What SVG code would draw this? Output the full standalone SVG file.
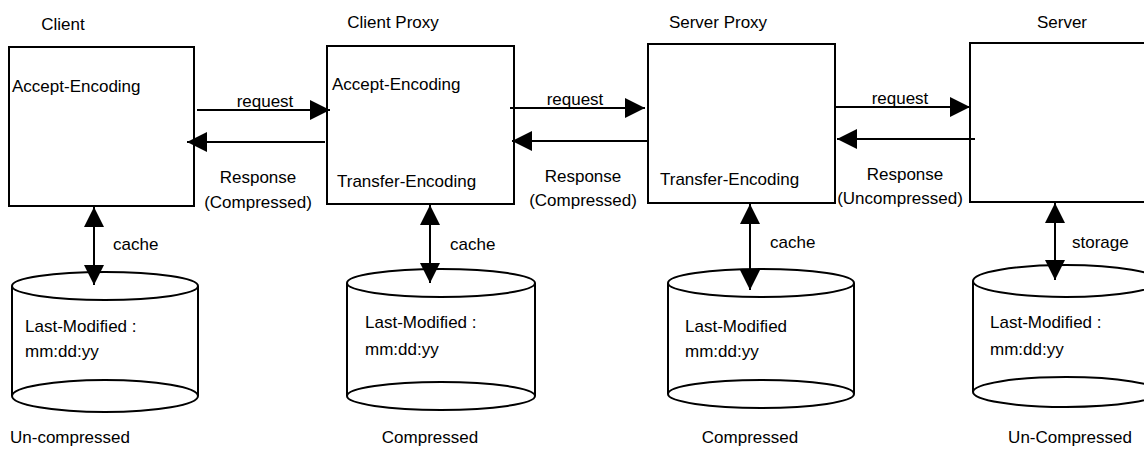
<svg xmlns="http://www.w3.org/2000/svg" width="1144" height="449" viewBox="0 0 1144 449">
<style>
text{font-family:"Liberation Sans",Arial,sans-serif;font-size:17px;fill:#000}
.m{text-anchor:middle}
.box{fill:#fff;stroke:#000;stroke-width:2}
.cyl{fill:#fff;stroke:#000;stroke-width:2}
.ln{stroke:#000;stroke-width:2;fill:none}
</style>
<defs>
<marker id="ah" viewBox="0 0 20 20" refX="20" refY="10" markerWidth="20" markerHeight="20" markerUnits="userSpaceOnUse" orient="auto-start-reverse">
<path d="M0,0 L20,10 L0,20 Z" fill="#000"/>
</marker>
</defs>
<rect width="1144" height="449" fill="#fff"/>
<g id="client">
<text x="63" y="30" class="m">Client</text>
<rect class="box" x="9" y="47" width="185" height="159"/>
<text x="12" y="92">Accept-Encoding</text>
</g>
<g id="client-proxy">
<text x="393" y="28" class="m">Client Proxy</text>
<rect class="box" x="327" y="46" width="187" height="158"/>
<text x="332" y="90">Accept-Encoding</text>
<text x="337" y="187">Transfer-Encoding</text>
</g>
<g id="server-proxy">
<text x="718" y="28" class="m">Server Proxy</text>
<rect class="box" x="648" y="44" width="187" height="159"/>
<text x="660" y="185">Transfer-Encoding</text>
</g>
<g id="server">
<text x="1062" y="28" class="m">Server</text>
<rect class="box" x="970" y="43" width="190" height="159"/>
</g>
<g id="client-cache">
<path class="cyl" d="M12,286 L12,396 A93,16 0 0 0 198,396 L198,286"/>
<ellipse class="cyl" cx="105" cy="286" rx="93" ry="14"/>
<path class="ln" d="M12,396 A93,16 0 0 1 198,396"/>
<text x="25" y="332">Last-Modified :</text>
<text x="25" y="357">mm:dd:yy</text>
<text x="70" y="443" class="m">Un-compressed</text>
</g>
<g id="client-proxy-cache">
<path class="cyl" d="M347,283 L347,396 A94,14 0 0 0 535,396 L535,283"/>
<ellipse class="cyl" cx="441" cy="283" rx="94" ry="14"/>
<path class="ln" d="M347,396 A94,14 0 0 1 535,396"/>
<text x="365" y="328">Last-Modified :</text>
<text x="365" y="355">mm:dd:yy</text>
<text x="430" y="443" class="m">Compressed</text>
</g>
<g id="server-proxy-cache">
<path class="cyl" d="M668,283 L668,394 A93,14 0 0 0 854,394 L854,283"/>
<ellipse class="cyl" cx="761" cy="283" rx="93" ry="14"/>
<path class="ln" d="M668,394 A93,14 0 0 1 854,394"/>
<text x="685" y="332">Last-Modified</text>
<text x="685" y="357">mm:dd:yy</text>
<text x="750" y="443" class="m">Compressed</text>
</g>
<g id="server-storage">
<path class="cyl" d="M973,281 L973,392 A93,15 0 0 0 1159,392 L1159,281"/>
<ellipse class="cyl" cx="1066" cy="281" rx="93" ry="16"/>
<path class="ln" d="M973,392 A93,15 0 0 1 1159,392"/>
<text x="990" y="328">Last-Modified :</text>
<text x="990" y="355">mm:dd:yy</text>
<text x="1070" y="443" class="m">Un-Compressed</text>
</g>
<g id="connectors">
<line class="ln" x1="197" y1="110" x2="330" y2="110" marker-end="url(#ah)"/>
<text x="265" y="107" class="m">request</text>
<line class="ln" x1="325" y1="142" x2="187" y2="142" marker-end="url(#ah)"/>
<text x="258" y="183" class="m">Response</text>
<text x="258" y="208" class="m">(Compressed)</text>
<line class="ln" x1="510" y1="108" x2="645" y2="108" marker-end="url(#ah)"/>
<text x="575" y="105" class="m">request</text>
<line class="ln" x1="648" y1="141" x2="512" y2="141" marker-end="url(#ah)"/>
<text x="583" y="182" class="m">Response</text>
<text x="583" y="206" class="m">(Compressed)</text>
<line class="ln" x1="836" y1="107" x2="970" y2="107" marker-end="url(#ah)"/>
<text x="900" y="104" class="m">request</text>
<line class="ln" x1="975" y1="139" x2="837" y2="139" marker-end="url(#ah)"/>
<text x="905" y="180" class="m">Response</text>
<text x="900" y="204" class="m">(Uncompressed)</text>
<line class="ln" x1="94" y1="207" x2="94" y2="285" marker-start="url(#ah)" marker-end="url(#ah)"/>
<text x="113" y="250">cache</text>
<line class="ln" x1="430" y1="205" x2="430" y2="283" marker-start="url(#ah)" marker-end="url(#ah)"/>
<text x="450" y="250">cache</text>
<line class="ln" x1="750" y1="204" x2="750" y2="290" marker-start="url(#ah)" marker-end="url(#ah)"/>
<text x="770" y="248">cache</text>
<line class="ln" x1="1055" y1="203" x2="1055" y2="280" marker-start="url(#ah)" marker-end="url(#ah)"/>
<text x="1072" y="248">storage</text>
</g>
</svg>
